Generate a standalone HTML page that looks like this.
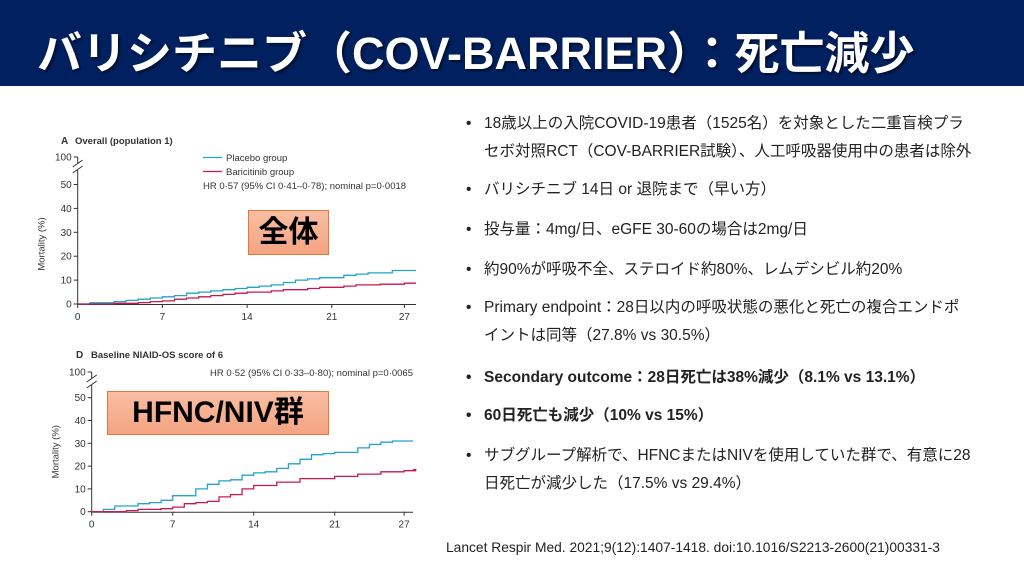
<!DOCTYPE html>
<html><head><meta charset="utf-8"><style>
body{margin:0;width:1024px;height:576px;overflow:hidden;background:#fff;font-family:"Liberation Sans","Noto Sans CJK JP",sans-serif;position:relative}
.hdr{position:absolute;left:0;top:0;width:1024px;height:86px;background:#00205f}
.hdr div{position:absolute;left:37px;top:17px;color:#fff;font-weight:bold;font-size:45px;white-space:nowrap;letter-spacing:0px;text-shadow:2px 2px 2px rgba(0,0,0,.5)}
.b{position:absolute;left:466px;font-size:15.5px;color:#222;line-height:28px;white-space:nowrap}
.b span{position:absolute;left:0}
.b p{margin:0 0 0 18px}
.box{position:absolute;background:linear-gradient(#f9bea2,#f4a482);border:1px solid #e8783a;font-weight:bold;color:#000;text-align:center}
svg{position:absolute;left:0;top:0}
</style></head><body>
<div class="hdr"><div>バリシチニブ（COV-BARRIER）：死亡減少</div></div>
<div class="b" style="top:110px"><span>•</span><p>18歳以上の入院COVID-19患者（1525名）を対象とした二重盲検プラ</p><p>セボ対照RCT（COV-BARRIER試験）、人工呼吸器使用中の患者は除外</p></div>
<div class="b" style="top:176px"><span>•</span><p>バリシチニブ 14日 or 退院まで（早い方）</p></div>
<div class="b" style="top:216px"><span>•</span><p>投与量：4mg/日、eGFE 30-60の場合は2mg/日</p></div>
<div class="b" style="top:256px"><span>•</span><p>約90%が呼吸不全、ステロイド約80%、レムデシビル約20%</p></div>
<div class="b" style="top:294px"><span>•</span><p>Primary endpoint：28日以内の呼吸状態の悪化と死亡の複合エンドポ</p><p>イントは同等（27.8% vs 30.5%）</p></div>
<div class="b" style="top:364px;font-weight:bold"><span>•</span><p>Secondary outcome：28日死亡は38%減少（8.1% vs 13.1%）</p></div>
<div class="b" style="top:402px;font-weight:bold"><span>•</span><p>60日死亡も減少（10% vs 15%）</p></div>
<div class="b" style="top:442px"><span>•</span><p>サブグループ解析で、HFNCまたはNIVを使用していた群で、有意に28</p><p>日死亡が減少した（17.5% vs 29.4%）</p></div>
<div style="position:absolute;left:446px;top:540px;font-size:13.8px;color:#222">Lancet Respir Med. 2021;9(12):1407-1418. doi:10.1016/S2213-2600(21)00331-3</div>
<svg id="s" width="1024" height="576" font-family="Liberation Sans, sans-serif"></svg>
<div class="box" style="left:248px;top:210px;width:79px;height:43px;font-size:30px;line-height:43px">全体</div>
<div class="box" style="left:107px;top:391px;width:220px;height:42px;font-size:30px;line-height:42px">HFNC/NIV群</div>
<script>
var s=document.getElementById('s'),h='';
function chart(o){
 var x0=o.x0,dx=o.dx,y0=o.y0,dy=o.dy,xe=o.xe;
 h+='<path d="M'+x0+' '+o.y100+'V'+(y0+0.5)+'H'+xe+'" stroke="#333" fill="none" stroke-width="1"/>';
 h+='<rect x="'+(x0-5)+'" y="'+(o.y100+7)+'" width="10" height="6" fill="#fff"/>';
 h+='<path d="M'+(x0-5)+' '+(o.y100+10)+'l10 -7M'+(x0-5)+' '+(o.y100+16)+'l10 -7" stroke="#333"/>';
 var t=[0,10,20,30,40,50];
 t.forEach(function(v){var y=y0-v*dy;h+='<line x1="'+(x0-4)+'" x2="'+x0+'" y1="'+y+'" y2="'+y+'" stroke="#333"/><text x="'+(x0-6)+'" y="'+(y+3.5)+'" font-size="10" fill="#333" text-anchor="end">'+v+'</text>';});
 h+='<line x1="'+(x0-4)+'" x2="'+x0+'" y1="'+o.y100+'" y2="'+o.y100+'" stroke="#333"/><text x="'+(x0-6)+'" y="'+(o.y100+3.5)+'" font-size="10" fill="#333" text-anchor="end">100</text>';
 [0,7,14,21,27].forEach(function(d){var x=x0+d*dx;h+='<line x1="'+x+'" x2="'+x+'" y1="'+y0+'" y2="'+(y0+4)+'" stroke="#333"/><text x="'+x+'" y="'+(y0+16)+'" font-size="10" fill="#333" text-anchor="middle">'+d+'</text>';});
 h+='<text transform="translate('+(x0-33)+','+(y0-60)+') rotate(-90)" font-size="9.5" fill="#333" text-anchor="middle">Mortality (%)</text>';
 function line(pts,c){var d='M'+x0+' '+y0;pts.forEach(function(p){var x=x0+p[0]*dx;d+='H'+x.toFixed(1)+'V'+(y0-p[1]*dy).toFixed(1);});d+='H'+xe;h+='<path d="'+d+'" stroke="'+c+'" fill="none" stroke-width="1.3"/>';}
 line(o.p,'#22a3c9');line(o.b,'#c81850');
}
chart({x0:77.7,dx:12.1,y0:304,dy:2.39,xe:416,y100:157,
p:[[1,0.5],[3,1],[4,1.5],[5,2],[6,2.5],[7,3],[8,3.5],[9,4.5],[10,5],[11,5.5],[12,6],[13,6.5],[14,7],[15,7.5],[16,8],[17,9],[18,10],[19,10.5],[20,11],[22,12],[23,12.5],[24,13],[26,14]],
b:[[3,0.3],[5,0.6],[6,1],[7,1.3],[8,2],[9,2.5],[10,3],[11,3.5],[12,4],[13,4.5],[14,5],[16,5.5],[17,6],[19,6.5],[20,7],[22,7.5],[23,8],[25,8.3],[27,8.7]]});
chart({x0:91.7,dx:11.57,y0:511.7,dy:2.28,xe:413,y100:372,
p:[[1,1],[2,2.5],[4,3.5],[5,4],[6,5],[7,7],[9,10],[10,12],[11,13.5],[12,14],[13,16],[14,17],[15,17.5],[16,19],[17,21],[18,23],[19,25],[20,25.5],[21,26],[23,28],[24,29.5],[25,30.5],[26,31]],
b:[[3,0.5],[4,1],[6,1.3],[7,2],[8,3.5],[9,4],[10,4.5],[11,6.5],[12,7.5],[13,10],[14,11.5],[16,13],[18,14.5],[21,15.5],[23,16.5],[25,17.5],[27,18],[28,18.5]]});
h+='<text x="61" y="144" font-size="10" font-weight="bold" fill="#333">A</text><text x="75" y="144" font-size="9.5" font-weight="bold" fill="#333">Overall (population 1)</text>';
h+='<line x1="203" x2="222" y1="157.5" y2="157.5" stroke="#22a3c9" stroke-width="1.3"/><text x="226" y="161" font-size="9.5" fill="#333">Placebo group</text>';
h+='<line x1="203" x2="222" y1="171.5" y2="171.5" stroke="#c81850" stroke-width="1.3"/><text x="226" y="175" font-size="9.5" fill="#333">Baricitinib group</text>';
h+='<text x="203" y="189" font-size="9.5" fill="#333">HR 0·57 (95% CI 0·41–0·78); nominal p=0·0018</text>';
h+='<text x="76" y="358" font-size="10" font-weight="bold" fill="#333">D</text><text x="91" y="358" font-size="9.5" font-weight="bold" fill="#333">Baseline NIAID-OS score of 6</text>';
h+='<text x="413" y="376" font-size="9.5" fill="#333" text-anchor="end">HR 0·52 (95% CI 0·33–0·80); nominal p=0·0065</text>';
s.innerHTML=h;
</script>
</body></html>
